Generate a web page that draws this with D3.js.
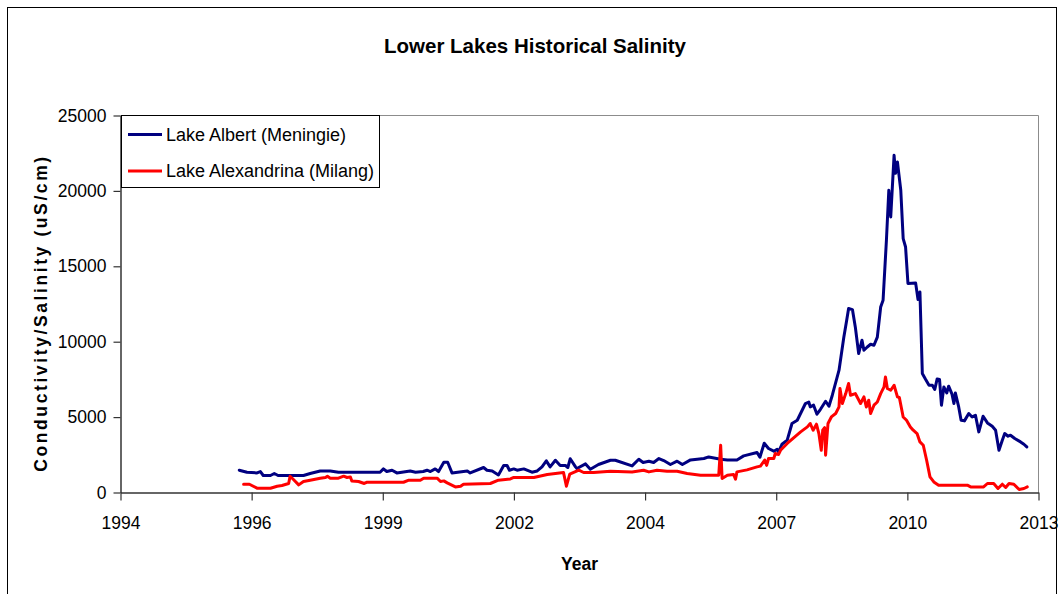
<!DOCTYPE html>
<html>
<head>
<meta charset="utf-8">
<script src="https://cdn.jsdelivr.net/npm/d3@7"></script>
<style>
  html, body { margin: 0; padding: 0; background: #fff; }
  svg { display: block; font-family: "Liberation Sans", Arial, sans-serif; }
</style>
</head>
<body>
<svg id="chart" width="1060" height="594"></svg>
<script>
// ---- Data ----
const chartTitle = "Lower Lakes Historical Salinity";
const seriesNames = ["Lake Albert (Meningie)", "Lake Alexandrina (Milang)"];
const seriesColors = ["#000080", "#FF0000"];
const yTickValues = [0, 5000, 10000, 15000, 20000, 25000];
const xTickLabels = ["1994", "1996", "1999", "2002", "2004", "2007", "2010", "2013"];

// Lake Albert (Meningie): decimal year, conductivity
const albertYears = [1996.48,1996.64,1996.85,1996.92,1996.98,1997.13,1997.21,1997.29,1997.82,1997.96,1998.17,1998.38,1998.55,1999.42,1999.49,1999.56,1999.67,1999.77,2000.05,2000.16,2000.32,2000.40,2000.47,2000.57,2000.64,2000.75,2000.83,2000.92,2001.24,2001.30,2001.58,2001.65,2001.76,2001.89,2002.00,2002.07,2002.12,2002.21,2002.28,2002.42,2002.59,2002.70,2002.80,2002.89,2002.97,2003.08,2003.18,2003.29,2003.34,2003.39,2003.50,2003.53,2003.71,2003.81,2003.98,2004.23,2004.33,2004.68,2004.82,2004.91,2005.03,2005.13,2005.24,2005.34,2005.48,2005.62,2005.73,2005.90,2006.18,2006.28,2006.53,2006.67,2006.87,2007.01,2007.29,2007.35,2007.44,2007.53,2007.64,2007.71,2007.74,2007.81,2007.92,2008.02,2008.13,2008.30,2008.37,2008.40,2008.47,2008.54,2008.61,2008.72,2008.79,2008.86,2009.00,2009.10,2009.16,2009.20,2009.28,2009.34,2009.41,2009.48,2009.52,2009.59,2009.66,2009.73,2009.80,2009.87,2009.92,2009.99,2010.04,2010.08,2010.15,2010.18,2010.22,2010.29,2010.34,2010.39,2010.44,2010.60,2010.65,2010.69,2010.74,2010.81,2010.88,2010.95,2011.00,2011.05,2011.10,2011.14,2011.19,2011.25,2011.29,2011.36,2011.40,2011.43,2011.50,2011.55,2011.62,2011.71,2011.78,2011.85,2011.92,2012.01,2012.10,2012.20,2012.27,2012.34,2012.41,2012.46,2012.53,2012.58,2012.67,2012.79,2012.86,2012.92];
const albertSalinity = [1480,1345,1300,1390,1127,1127,1260,1127,1127,1260,1430,1430,1345,1345,1565,1390,1478,1300,1430,1345,1390,1478,1390,1565,1390,2010,2010,1300,1430,1300,1657,1478,1430,1167,1790,1790,1478,1565,1478,1565,1345,1430,1700,2100,1700,2140,1790,1790,1657,2240,1700,1590,1896,1545,1856,2140,2140,1765,2208,1990,2075,1990,2254,2120,1856,2075,1856,2160,2254,2360,2208,2160,2160,2427,2652,2340,3270,2917,2740,2870,2690,3200,3470,4575,4790,5900,6000,5675,5790,5190,5500,6050,5720,6450,8110,10300,11420,12200,12130,10980,9215,10100,9435,9650,9830,9765,10300,12300,12750,16730,20040,18270,22360,21170,21920,20040,16840,16280,13860,13900,12800,13300,7890,7490,7110,7110,6830,7530,7490,5790,7000,6600,7050,6520,5900,6600,5675,4790,4750,5240,5010,5125,4020,5060,4615,4390,4130,2800,3470,3910,3730,3800,3580,3355,3200,3020];

// Lake Alexandrina (Milang): decimal year, conductivity
const alexYears = [1996.57,1996.69,1996.85,1997.13,1997.27,1997.37,1997.51,1997.54,1997.61,1997.72,1997.82,1997.96,1998.17,1998.28,1998.32,1998.38,1998.55,1998.66,1998.73,1998.80,1998.83,1998.97,1999.09,1999.15,1999.91,2000.02,2000.26,2000.33,2000.61,2000.68,2000.75,2000.82,2000.99,2001.10,2001.16,2001.72,2001.89,2002.14,2002.21,2002.63,2002.91,2003.08,2003.25,2003.31,2003.38,2003.57,2003.67,2003.88,2004.02,2004.23,2004.68,2004.92,2005.03,2005.20,2005.41,2005.62,2005.83,2006.11,2006.49,2006.53,2006.56,2006.67,2006.80,2006.84,2006.87,2007.08,2007.29,2007.36,2007.45,2007.49,2007.53,2007.64,2007.67,2007.74,2007.78,2007.92,2008.06,2008.20,2008.34,2008.40,2008.46,2008.53,2008.58,2008.63,2008.66,2008.70,2008.72,2008.77,2008.84,2008.93,2009.00,2009.02,2009.07,2009.14,2009.20,2009.24,2009.34,2009.45,2009.52,2009.57,2009.62,2009.66,2009.73,2009.80,2009.87,2009.94,2009.97,2010.01,2010.08,2010.15,2010.22,2010.26,2010.34,2010.41,2010.49,2010.55,2010.63,2010.69,2010.76,2010.83,2010.90,2010.98,2011.08,2011.68,2011.75,2012.02,2012.10,2012.23,2012.32,2012.41,2012.48,2012.55,2012.65,2012.76,2012.86,2012.93];
const alexSalinity = [550,550,285,285,418,464,597,1080,860,504,730,815,950,995,1080,950,950,1080,995,1035,770,730,597,680,680,815,815,950,950,730,770,640,370,418,550,597,815,900,995,995,1193,1260,1320,420,1213,1478,1325,1325,1366,1412,1366,1478,1366,1478,1412,1412,1260,1147,1147,3136,928,1147,1193,880,1366,1500,1700,1750,2150,1800,2254,2254,2585,2520,2800,3250,3645,4020,4350,4575,4130,4530,3910,2800,4130,4300,2470,4575,5010,5240,5675,6900,5900,6560,7230,6450,6560,5900,6340,5675,6120,5240,5790,6000,6560,7000,7660,6900,6780,7110,6340,6300,5010,4790,4350,4130,3910,3355,3136,2140,1035,700,484,484,371,371,597,597,265,550,330,597,550,200,265,371];

// ---- Helpers ----
function decYearToDate(d) {
  const y = Math.floor(d);
  const s = new Date(y, 0, 1), e = new Date(y + 1, 0, 1);
  return new Date(s.getTime() + (d - y) * (e - s));
}

const svg = d3.select("#chart");
const W = 1060, H = 594;
const plot = { left: 120.5, right: 1038.5, top: 115.5, bottom: 492.5 };

svg.append("rect").attr("width", W).attr("height", H).attr("fill", "#fff");
// outer chart frame
svg.append("rect").attr("x", 7.5).attr("y", 7.5).attr("width", 1049).attr("height", 600)
  .attr("fill", "none").attr("stroke", "#000").attr("stroke-width", 1);

// scales
const xStart = new Date(1994, 0, 1);
const xTickDates = xTickLabels.map((_, i) => d3.timeDay.offset(xStart, 1000 * i));
const x = d3.scaleTime().domain([xTickDates[0], xTickDates[xTickDates.length - 1]])
  .range([plot.left, plot.right]);
const y = d3.scaleLinear().domain([0, 25000]).range([plot.bottom, plot.top]);

// plot area border (top & right, gray)
svg.append("path")
  .attr("d", `M${plot.left},${plot.top}H${plot.right}V${plot.bottom}`)
  .attr("fill", "none").attr("stroke", "#8c8c8c").attr("stroke-width", 1);

// y axis
const yAxis = svg.append("g").attr("transform", `translate(${plot.left},0)`)
  .call(d3.axisLeft(y).tickValues(yTickValues).tickFormat(d3.format("d")).tickSize(7).tickSizeOuter(0).tickPadding(7));
// x axis
const xAxis = svg.append("g").attr("transform", `translate(0,${plot.bottom})`)
  .call(d3.axisBottom(x).tickValues(xTickDates).tickFormat((d, i) => xTickLabels[i]).tickSize(8).tickSizeOuter(0).tickPadding(16));
[yAxis, xAxis].forEach(g => {
  g.select(".domain").attr("stroke", "#333").attr("stroke-width", 1.5);
  g.selectAll(".tick line").attr("stroke", "#333").attr("stroke-width", 1.2);
  g.selectAll(".tick text").attr("fill", "#000").style("font-size", "17.5px")
    .style("font-family", "'Liberation Sans', Arial, sans-serif");
});

// lines
const line = d3.line().x(d => x(d.date)).y(d => y(d.value));
const series = [
  { name: seriesNames[0], color: seriesColors[0], data: albertYears.map((t, i) => ({ date: decYearToDate(t), value: albertSalinity[i] })) },
  { name: seriesNames[1], color: seriesColors[1], data: alexYears.map((t, i) => ({ date: decYearToDate(t), value: alexSalinity[i] })) }
];
series.forEach(s => {
  svg.append("path").datum(s.data).attr("d", line)
    .attr("fill", "none").attr("stroke", s.color).attr("stroke-width", 3)
    .attr("stroke-linejoin", "round").attr("stroke-linecap", "round");
});

// title
svg.append("text").attr("x", 535).attr("y", 53).attr("text-anchor", "middle")
  .style("font-size", "20.5px").style("font-weight", "bold").text(chartTitle);

// axis titles
svg.append("text").attr("x", (plot.left + plot.right) / 2).attr("y", 570).attr("text-anchor", "middle")
  .style("font-size", "17.5px").style("font-weight", "bold").text("Year");
svg.append("text").attr("transform", "translate(47,313) rotate(-90)").attr("text-anchor", "middle")
  .style("font-size", "17.5px").style("font-weight", "bold").style("letter-spacing", "2.6px")
  .text("Conductivity/Salinity (uS/cm)");

// legend
const lg = svg.append("g");
lg.append("rect").attr("x", 121.5).attr("y", 115.5).attr("width", 258).attr("height", 72)
  .attr("fill", "#fff").attr("stroke", "#000").attr("stroke-width", 1);
series.forEach((s, i) => {
  const ly = 134.5 + i * 36.5;
  lg.append("line").attr("x1", 128).attr("x2", 162).attr("y1", ly).attr("y2", ly)
    .attr("stroke", s.color).attr("stroke-width", 3);
  lg.append("text").attr("x", 166).attr("y", ly).attr("dy", "0.35em")
    .style("font-size", "18px").text(s.name);
});
</script>
</body>
</html>
